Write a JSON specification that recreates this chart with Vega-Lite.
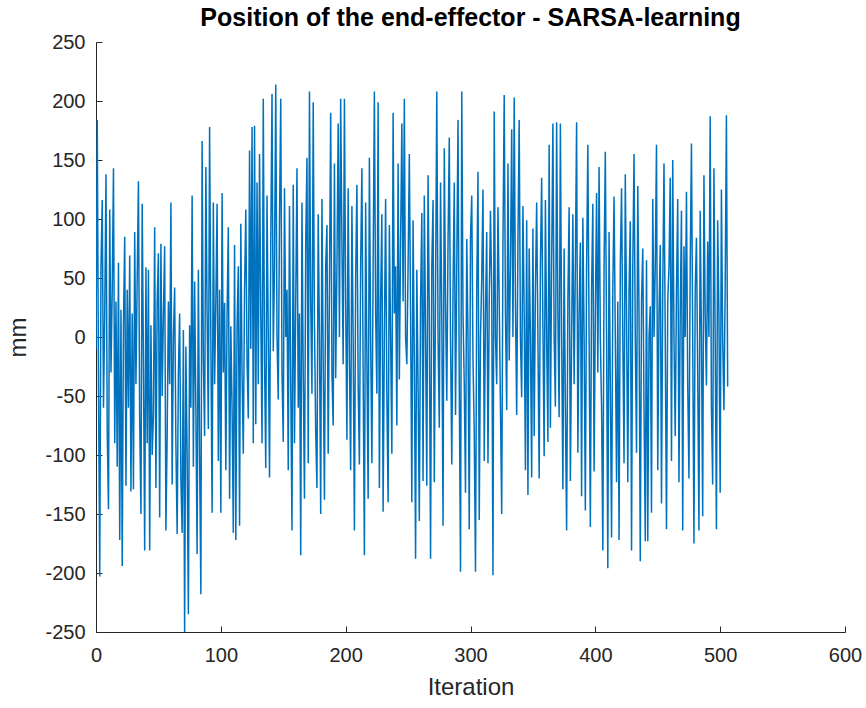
{
  "$schema": "https://vega.github.io/schema/vega-lite/v6.json",
  "autosize": {"type": "none"},
  "width": 749,
  "height": 590,
  "padding": {"left": 96, "top": 42, "right": 21, "bottom": 76},
  "background": "white",
  "title": {
    "text": "Position of the end-effector - SARSA-learning",
    "font": "Liberation Sans",
    "fontSize": 25,
    "fontWeight": "bold",
    "color": "#000000",
    "anchor": "middle",
    "frame": "group",
    "baseline": "bottom",
    "offset": 8,
    "dy": 32
  },
  "config": {
    "view": {"stroke": null},
    "axis": {
      "labelFont": "Liberation Sans",
      "titleFont": "Liberation Sans",
      "labelFontSize": 20,
      "titleFontSize": 24,
      "titleFontWeight": "normal",
      "labelColor": "#262626",
      "titleColor": "#262626",
      "domainColor": "#262626",
      "tickColor": "#262626",
      "domainWidth": 1,
      "tickWidth": 1,
      "grid": false
    }
  },
  "data": {"values": [
{"i":0,"v":-10},{"i":1,"v":184},{"i":2,"v":-40},{"i":3,"v":-203},{"i":4,"v":60},{"i":5,"v":116},{"i":6,"v":-60},{"i":7,"v":20},{"i":8,"v":138},{"i":9,"v":-80},
{"i":10,"v":-146},{"i":11,"v":108},{"i":12,"v":-30},{"i":13,"v":40},{"i":14,"v":143},{"i":15,"v":-90},{"i":16,"v":30},{"i":17,"v":-110},{"i":18,"v":63},{"i":19,"v":-172},
{"i":20,"v":23},{"i":21,"v":-194},{"i":22,"v":10},{"i":23,"v":85},{"i":24,"v":-126},{"i":25,"v":40},{"i":26,"v":-60},{"i":27,"v":69},{"i":28,"v":-131},{"i":29,"v":20},
{"i":30,"v":-129},{"i":31,"v":89},{"i":32,"v":-40},{"i":33,"v":50},{"i":34,"v":132},{"i":35,"v":-70},{"i":36,"v":-150},{"i":37,"v":113},{"i":38,"v":-20},{"i":39,"v":-181},
{"i":40,"v":59},{"i":41,"v":-90},{"i":42,"v":57},{"i":43,"v":-181},{"i":44,"v":10},{"i":45,"v":-100},{"i":46,"v":-66},{"i":47,"v":93},{"i":48,"v":-128},{"i":49,"v":30},
{"i":50,"v":71},{"i":51,"v":-153},{"i":52,"v":79},{"i":53,"v":-50},{"i":54,"v":20},{"i":55,"v":77},{"i":56,"v":-164},{"i":57,"v":-84},{"i":58,"v":30},{"i":59,"v":-40},
{"i":60,"v":114},{"i":61,"v":-125},{"i":62,"v":0},{"i":63,"v":42},{"i":64,"v":-90},{"i":65,"v":-167},{"i":66,"v":-30},{"i":67,"v":20},{"i":68,"v":-120},{"i":69,"v":-166},
{"i":70,"v":6},{"i":71,"v":-250},{"i":72,"v":-8},{"i":73,"v":-100},{"i":74,"v":-235},{"i":75,"v":10},{"i":76,"v":-60},{"i":77,"v":120},{"i":78,"v":-110},{"i":79,"v":47},
{"i":80,"v":-60},{"i":81,"v":-184},{"i":82,"v":57},{"i":83,"v":-100},{"i":84,"v":-218},{"i":85,"v":166},{"i":86,"v":-20},{"i":87,"v":-84},{"i":88,"v":144},{"i":89,"v":20},
{"i":90,"v":-78},{"i":91,"v":178},{"i":92,"v":0},{"i":93,"v":-149},{"i":94,"v":114},{"i":95,"v":-40},{"i":96,"v":30},{"i":97,"v":113},{"i":98,"v":-105},{"i":99,"v":40},
{"i":100,"v":-149},{"i":101,"v":122},{"i":102,"v":-30},{"i":103,"v":29},{"i":104,"v":-113},{"i":105,"v":20},{"i":106,"v":93},{"i":107,"v":-137},{"i":108,"v":9},{"i":109,"v":-60},
{"i":110,"v":-166},{"i":111,"v":78},{"i":112,"v":-172},{"i":113,"v":10},{"i":114,"v":60},{"i":115,"v":-160},{"i":116,"v":96},{"i":117,"v":-30},{"i":118,"v":-99},{"i":119,"v":40},
{"i":120,"v":108},{"i":121,"v":-20},{"i":122,"v":-69},{"i":123,"v":158},{"i":124,"v":-10},{"i":125,"v":178},{"i":126,"v":-90},{"i":127,"v":179},{"i":128,"v":-74},{"i":129,"v":131},
{"i":130,"v":-40},{"i":131,"v":155},{"i":132,"v":20},{"i":133,"v":-90},{"i":134,"v":202},{"i":135,"v":-20},{"i":136,"v":-111},{"i":137,"v":120},{"i":138,"v":0},{"i":139,"v":-119},
{"i":140,"v":80},{"i":141,"v":206},{"i":142,"v":-12},{"i":143,"v":60},{"i":144,"v":214},{"i":145,"v":0},{"i":146,"v":-53},{"i":147,"v":100},{"i":148,"v":202},{"i":149,"v":-30},
{"i":150,"v":-89},{"i":151,"v":126},{"i":152,"v":0},{"i":153,"v":40},{"i":154,"v":-113},{"i":155,"v":111},{"i":156,"v":-40},{"i":157,"v":-164},{"i":158,"v":129},{"i":159,"v":-90},
{"i":160,"v":30},{"i":161,"v":143},{"i":162,"v":-60},{"i":163,"v":20},{"i":164,"v":-185},{"i":165,"v":114},{"i":166,"v":-30},{"i":167,"v":-137},{"i":168,"v":80},{"i":169,"v":152},
{"i":170,"v":-107},{"i":171,"v":208},{"i":172,"v":30},{"i":173,"v":-48},{"i":174,"v":199},{"i":175,"v":10},{"i":176,"v":-80},{"i":177,"v":-128},{"i":178,"v":104},{"i":179,"v":0},
{"i":180,"v":-150},{"i":181,"v":117},{"i":182,"v":-20},{"i":183,"v":-138},{"i":184,"v":60},{"i":185,"v":95},{"i":186,"v":-99},{"i":187,"v":40},{"i":188,"v":190},{"i":189,"v":-30},
{"i":190,"v":-75},{"i":191,"v":147},{"i":192,"v":-35},{"i":193,"v":60},{"i":194,"v":181},{"i":195,"v":0},{"i":196,"v":202},{"i":197,"v":80},{"i":198,"v":-23},{"i":199,"v":202},
{"i":200,"v":30},{"i":201,"v":-87},{"i":202,"v":126},{"i":203,"v":-20},{"i":204,"v":-113},{"i":205,"v":111},{"i":206,"v":0},{"i":207,"v":-164},{"i":208,"v":50},{"i":209,"v":129},
{"i":210,"v":-40},{"i":211,"v":-108},{"i":212,"v":60},{"i":213,"v":143},{"i":214,"v":-30},{"i":215,"v":-185},{"i":216,"v":114},{"i":217,"v":-20},{"i":218,"v":-137},{"i":219,"v":152},
{"i":220,"v":0},{"i":221,"v":-107},{"i":222,"v":60},{"i":223,"v":208},{"i":224,"v":20},{"i":225,"v":-48},{"i":226,"v":199},{"i":227,"v":-128},{"i":228,"v":30},{"i":229,"v":104},
{"i":230,"v":-148},{"i":231,"v":0},{"i":232,"v":117},{"i":233,"v":-50},{"i":234,"v":-140},{"i":235,"v":95},{"i":236,"v":0},{"i":237,"v":-99},{"i":238,"v":190},{"i":239,"v":20},
{"i":240,"v":60},{"i":241,"v":-75},{"i":242,"v":147},{"i":243,"v":-36},{"i":244,"v":80},{"i":245,"v":181},{"i":246,"v":30},{"i":247,"v":202},{"i":248,"v":0},{"i":249,"v":-23},
{"i":250,"v":60},{"i":251,"v":155},{"i":252,"v":20},{"i":253,"v":-140},{"i":254,"v":99},{"i":255,"v":-20},{"i":256,"v":-188},{"i":257,"v":57},{"i":258,"v":-40},{"i":259,"v":-156},
{"i":260,"v":30},{"i":261,"v":105},{"i":262,"v":-122},{"i":263,"v":120},{"i":264,"v":0},{"i":265,"v":-126},{"i":266,"v":137},{"i":267,"v":20},{"i":268,"v":-188},{"i":269,"v":60},
{"i":270,"v":116},{"i":271,"v":-123},{"i":272,"v":40},{"i":273,"v":208},{"i":274,"v":0},{"i":275,"v":-77},{"i":276,"v":131},{"i":277,"v":20},{"i":278,"v":-160},{"i":279,"v":160},
{"i":280,"v":30},{"i":281,"v":-54},{"i":282,"v":80},{"i":283,"v":169},{"i":284,"v":0},{"i":285,"v":-108},{"i":286,"v":40},{"i":287,"v":131},{"i":288,"v":-66},{"i":289,"v":60},
{"i":290,"v":184},{"i":291,"v":-40},{"i":292,"v":-199},{"i":293,"v":208},{"i":294,"v":20},{"i":295,"v":-40},{"i":296,"v":-132},{"i":297,"v":83},{"i":298,"v":0},{"i":299,"v":-163},
{"i":300,"v":84},{"i":301,"v":120},{"i":302,"v":-20},{"i":303,"v":-80},{"i":304,"v":-199},{"i":305,"v":40},{"i":306,"v":140},{"i":307,"v":-155},{"i":308,"v":0},{"i":309,"v":50},
{"i":310,"v":125},{"i":311,"v":-105},{"i":312,"v":20},{"i":313,"v":89},{"i":314,"v":-107},{"i":315,"v":30},{"i":316,"v":107},{"i":317,"v":40},{"i":318,"v":-202},{"i":319,"v":191},
{"i":320,"v":0},{"i":321,"v":-40},{"i":322,"v":110},{"i":323,"v":30},{"i":324,"v":-60},{"i":325,"v":-150},{"i":326,"v":80},{"i":327,"v":205},{"i":328,"v":20},{"i":329,"v":-62},
{"i":330,"v":147},{"i":331,"v":-20},{"i":332,"v":60},{"i":333,"v":176},{"i":334,"v":0},{"i":335,"v":203},{"i":336,"v":30},{"i":337,"v":-66},{"i":338,"v":80},{"i":339,"v":184},
{"i":340,"v":0},{"i":341,"v":-51},{"i":342,"v":111},{"i":343,"v":20},{"i":344,"v":-113},{"i":345,"v":99},{"i":346,"v":-134},{"i":347,"v":75},{"i":348,"v":0},{"i":349,"v":-119},
{"i":350,"v":92},{"i":351,"v":-84},{"i":352,"v":40},{"i":353,"v":114},{"i":354,"v":0},{"i":355,"v":-120},{"i":356,"v":60},{"i":357,"v":135},{"i":358,"v":10},{"i":359,"v":-101},
{"i":360,"v":116},{"i":361,"v":0},{"i":362,"v":-89},{"i":363,"v":163},{"i":364,"v":-77},{"i":365,"v":60},{"i":366,"v":181},{"i":367,"v":0},{"i":368,"v":-59},{"i":369,"v":182},
{"i":370,"v":20},{"i":371,"v":-68},{"i":372,"v":181},{"i":373,"v":0},{"i":374,"v":-129},{"i":375,"v":75},{"i":376,"v":-60},{"i":377,"v":-164},{"i":378,"v":30},{"i":379,"v":110},
{"i":380,"v":-122},{"i":381,"v":0},{"i":382,"v":104},{"i":383,"v":-40},{"i":384,"v":60},{"i":385,"v":182},{"i":386,"v":-98},{"i":387,"v":20},{"i":388,"v":80},{"i":389,"v":-135},
{"i":390,"v":101},{"i":391,"v":0},{"i":392,"v":-147},{"i":393,"v":60},{"i":394,"v":163},{"i":395,"v":0},{"i":396,"v":-161},{"i":397,"v":40},{"i":398,"v":113},{"i":399,"v":-114},
{"i":400,"v":20},{"i":401,"v":122},{"i":402,"v":-30},{"i":403,"v":144},{"i":404,"v":0},{"i":405,"v":-60},{"i":406,"v":-181},{"i":407,"v":60},{"i":408,"v":157},{"i":409,"v":0},
{"i":410,"v":-196},{"i":411,"v":89},{"i":412,"v":-40},{"i":413,"v":-170},{"i":414,"v":40},{"i":415,"v":119},{"i":416,"v":0},{"i":417,"v":-123},{"i":418,"v":30},{"i":419,"v":-172},
{"i":420,"v":60},{"i":421,"v":126},{"i":422,"v":0},{"i":423,"v":-107},{"i":424,"v":138},{"i":425,"v":20},{"i":426,"v":-123},{"i":427,"v":40},{"i":428,"v":98},{"i":429,"v":-181},
{"i":430,"v":60},{"i":431,"v":155},{"i":432,"v":0},{"i":433,"v":-98},{"i":434,"v":128},{"i":435,"v":20},{"i":436,"v":-190},{"i":437,"v":30},{"i":438,"v":75},{"i":439,"v":-60},
{"i":440,"v":-173},{"i":441,"v":65},{"i":442,"v":-173},{"i":443,"v":0},{"i":444,"v":26},{"i":445,"v":-149},{"i":446,"v":117},{"i":447,"v":0},{"i":448,"v":60},{"i":449,"v":163},
{"i":450,"v":-113},{"i":451,"v":20},{"i":452,"v":78},{"i":453,"v":-141},{"i":454,"v":40},{"i":455,"v":147},{"i":456,"v":0},{"i":457,"v":-163},{"i":458,"v":30},{"i":459,"v":60},
{"i":460,"v":135},{"i":461,"v":-105},{"i":462,"v":150},{"i":463,"v":0},{"i":464,"v":-84},{"i":465,"v":40},{"i":466,"v":117},{"i":467,"v":-123},{"i":468,"v":20},{"i":469,"v":107},
{"i":470,"v":-164},{"i":471,"v":77},{"i":472,"v":0},{"i":473,"v":123},{"i":474,"v":-40},{"i":475,"v":-120},{"i":476,"v":60},{"i":477,"v":164},{"i":478,"v":0},{"i":479,"v":-175},
{"i":480,"v":40},{"i":481,"v":84},{"i":482,"v":-30},{"i":483,"v":-164},{"i":484,"v":107},{"i":485,"v":0},{"i":486,"v":-152},{"i":487,"v":137},{"i":488,"v":20},{"i":489,"v":-41},
{"i":490,"v":81},{"i":491,"v":0},{"i":492,"v":187},{"i":493,"v":-60},{"i":494,"v":-125},{"i":495,"v":143},{"i":496,"v":0},{"i":497,"v":-163},{"i":498,"v":99},{"i":499,"v":20},
{"i":500,"v":-132},{"i":501,"v":125},{"i":502,"v":0},{"i":503,"v":-62},{"i":504,"v":40},{"i":505,"v":188},{"i":506,"v":-42}
  ]},
  "mark": {"type": "line", "color": "#0072BD", "strokeWidth": 1.5, "clip": true},
  "encoding": {
    "x": {
      "field": "i", "type": "quantitative",
      "scale": {"domain": [0, 600], "nice": false, "zero": false},
      "axis": {"title": "Iteration", "values": [0,100,200,300,400,500,600], "labelExpr": "'' + datum.value", "tickSize": -6, "labelPadding": 19, "titlePadding": 10, "labelFlush": false}
    },
    "y": {
      "field": "v", "type": "quantitative",
      "scale": {"domain": [-250, 250], "nice": false, "zero": false},
      "axis": {"title": "mm", "values": [-250,-200,-150,-100,-50,0,50,100,150,200,250], "labelExpr": "'' + datum.value", "tickSize": -6, "labelPadding": 17, "titlePadding": 14, "labelFlush": false}
    }
  }
}
